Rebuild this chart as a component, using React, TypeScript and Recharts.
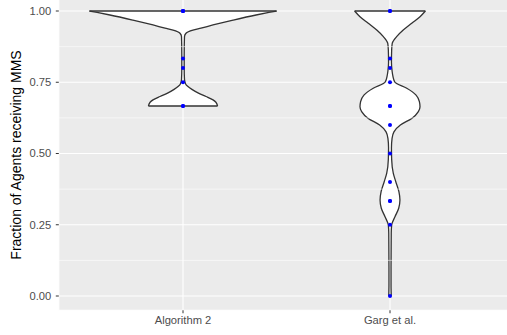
import React from 'react';
import {
  ComposedChart,
  Area,
  Scatter,
  XAxis,
  YAxis,
  CartesianGrid,
  ReferenceLine,
} from 'recharts';

// ---- data ----
const categories = ['Algorithm 2', 'Garg et al.'];
const categoryPositions = [1, 2];

const yTicks = [0, 0.25, 0.5, 0.75, 1];
const yTickLabels = ['0.00', '0.25', '0.50', '0.75', '1.00'];
const minorY = [0.125, 0.375, 0.625, 0.875];

// violin profile: level (fraction) and half width (in category units)
const alg2Levels = [1.0, 0.995, 0.986, 0.968, 0.951, 0.94, 0.933, 0.922, 0.91, 0.85, 0.8, 0.76, 0.745, 0.735, 0.725, 0.711, 0.7, 0.688, 0.68, 0.6667];
const alg2HalfWidth = [0.452, 0.415, 0.353, 0.242, 0.145, 0.087, 0.048, 0.0145, 0.0072, 0.0058, 0.0058, 0.0072, 0.012, 0.024, 0.043, 0.077, 0.111, 0.145, 0.159, 0.167];

const gargLevels = [1.0, 0.98, 0.957, 0.933, 0.91, 0.887, 0.863, 0.82, 0.79, 0.77, 0.75, 0.729, 0.705, 0.682, 0.664, 0.647, 0.623, 0.6, 0.576, 0.553, 0.52, 0.48, 0.43, 0.401, 0.366, 0.337, 0.308, 0.278, 0.249, 0.22, 0.1, 0.04, 0.0];
const gargHalfWidth = [0.171, 0.145, 0.105, 0.064, 0.032, 0.011, 0.008, 0.007, 0.01, 0.0145, 0.024, 0.081, 0.126, 0.142, 0.145, 0.137, 0.105, 0.05, 0.019, 0.01, 0.007, 0.008, 0.016, 0.028, 0.043, 0.048, 0.042, 0.024, 0.008, 0.006, 0.005, 0.005, 0.006];

// observed values
const alg2Points = [1, 1, 1, 0.8333, 0.8, 0.75, 0.6667, 0.6667];
const gargPoints = [1, 1, 0.8333, 0.8, 0.75, 0.6667, 0.6667, 0.6, 0.5, 0.4, 0.3333, 0.3333, 0.25, 0];

// ---- derived tables ----
const makeViolin = (levels: number[], hw: number[], pos: number) =>
  levels.map((y, i) => ({ y, range: [pos - hw[i], pos + hw[i]] }));

const alg2Violin = makeViolin(alg2Levels, alg2HalfWidth, categoryPositions[0]);
const gargViolin = makeViolin(gargLevels, gargHalfWidth, categoryPositions[1]);

const alg2PointData = alg2Points.map((y) => ({ x: categoryPositions[0], y }));
const gargPointData = gargPoints.map((y) => ({ x: categoryPositions[1], y }));

const caps = [
  { pos: categoryPositions[0], y: alg2Levels[0], hw: alg2HalfWidth[0] },
  { pos: categoryPositions[0], y: alg2Levels[alg2Levels.length - 1], hw: alg2HalfWidth[alg2HalfWidth.length - 1] },
  { pos: categoryPositions[1], y: gargLevels[0], hw: gargHalfWidth[0] },
  { pos: categoryPositions[1], y: gargLevels[gargLevels.length - 1], hw: gargHalfWidth[gargHalfWidth.length - 1] },
];

const FONT = '"Liberation Sans", Arial, Helvetica, sans-serif';
const OUTLINE = '#333333';

const Dot = (p: any) => <circle cx={p.cx} cy={p.cy} r={2} fill="#0000FF" />;

export default function App() {
  return (
    <div style={{ position: 'absolute', left: 0, top: 0, width: 507, height: 335, overflow: 'hidden', background: '#fff' }}>
      <div style={{ position: 'absolute', left: 0, top: -10 }}>
        <ComposedChart
          width={520}
          height={350}
          layout="vertical"
          margin={{ top: 6.75, right: 5.8, bottom: 4.75, left: 18.8 }}
        >
          <CartesianGrid fill="#EBEBEB" stroke="#FFFFFF" strokeWidth={1.1} fillOpacity={1} />
          {minorY.map((v) => (
            <ReferenceLine key={'m' + v} y={v} stroke="#FFFFFF" strokeWidth={0.55} />
          ))}
          <XAxis
            type="number"
            dataKey="x"
            domain={[0.4, 2.6]}
            allowDataOverflow
            ticks={categoryPositions}
            interval={0}
            tickFormatter={(v: number) => categories[categoryPositions.indexOf(v)]}
            axisLine={false}
            tickLine={{ stroke: OUTLINE }}
            tickSize={3}
            tickMargin={2.5}
            height={25}
            tick={{ fill: '#4D4D4D', fontSize: 11.2, fontFamily: FONT }}
          />
          <YAxis
            type="number"
            dataKey="y"
            reversed
            domain={[-0.05, 1.05]}
            allowDataOverflow
            ticks={yTicks}
            interval={0}
            tickFormatter={(v: number) => yTickLabels[yTicks.indexOf(v)]}
            axisLine={false}
            tickLine={{ stroke: OUTLINE }}
            tickSize={3}
            tickMargin={4.5}
            width={40}
            tick={{ fill: '#4D4D4D', fontSize: 11.2, fontFamily: FONT }}
          />
          <Area
            data={alg2Violin}
            dataKey="range"
            type="monotone"
            fill="#FFFFFF"
            fillOpacity={1}
            stroke={OUTLINE}
            strokeWidth={1.3}
            dot={false}
            activeDot={false}
            isAnimationActive={false}
          />
          <Area
            data={gargViolin}
            dataKey="range"
            type="monotone"
            fill="#FFFFFF"
            fillOpacity={1}
            stroke={OUTLINE}
            strokeWidth={1.3}
            dot={false}
            activeDot={false}
            isAnimationActive={false}
          />
          {caps.map((c, i) => (
            <ReferenceLine
              key={'c' + i}
              segment={[
                { x: c.pos - c.hw, y: c.y },
                { x: c.pos + c.hw, y: c.y },
              ]}
              stroke={OUTLINE}
              strokeWidth={1.3}
            />
          ))}
          <Scatter data={alg2PointData} dataKey="y" shape={Dot} isAnimationActive={false} />
          <Scatter data={gargPointData} dataKey="y" shape={Dot} isAnimationActive={false} />
        </ComposedChart>
      </div>
      <svg style={{ position: 'absolute', left: 0, top: 0 }} width={30} height={335}>
        <text
          x={16}
          y={155}
          transform="rotate(-90 16 155)"
          textAnchor="middle"
          dominantBaseline="central"
          fontSize={14}
          fontFamily={FONT}
          fill="#000000"
        >
          Fraction of Agents receiving MMS
        </text>
      </svg>
    </div>
  );
}
